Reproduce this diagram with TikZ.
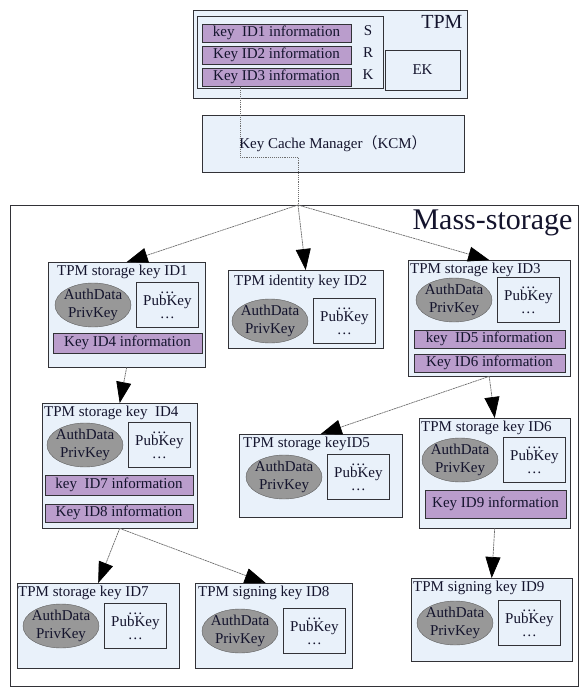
\documentclass[tikz,border=0pt]{standalone}
\usepackage{fontspec}
\setmainfont{Liberation Serif}
\newfontfamily\cjk{Noto Sans CJK SC}
\usepackage{tikz}
\usetikzlibrary{arrows.meta, positioning, shapes.geometric}

\definecolor{boxblue}{RGB}{233,241,250}
\definecolor{barpurple}{RGB}{186,157,204}
\definecolor{ellfill}{RGB}{152,152,152}
\definecolor{ellgray}{RGB}{95,95,95}
\definecolor{edgegray}{RGB}{50,50,55}
\definecolor{linegray}{RGB}{110,110,110}
\definecolor{inkblue}{RGB}{20,20,45}

\begin{document}
\begin{tikzpicture}[
    x=1pt, y=-1pt,
    font=\fontsize{15}{17}\selectfont,
    text=inkblue,
    keybox/.style={draw=edgegray, fill=boxblue, anchor=north west, inner sep=0pt},
    infobar/.style={draw=edgegray, fill=barpurple, line width=1pt, minimum width=149pt, minimum height=18pt, inner sep=0pt},
    privkey/.style={ellipse, draw=ellgray, fill=ellfill, minimum width=76pt, minimum height=44pt, inner sep=-3pt, align=center, font=\fontsize{15}{18}\selectfont},
    pubkey/.style={draw=edgegray, fill=boxblue, minimum width=62pt, minimum height=45pt, inner sep=0pt, align=center},
    title/.style={anchor=west, inner sep=0pt},
    link/.style={draw=linegray, dash pattern=on 2pt off 0.6pt, line width=0.7pt, -{Triangle[length=21pt, width=15pt, color=black]}},
    cacheline/.style={draw=linegray, densely dotted, line width=0.9pt}
]
\useasboundingbox (0,0) rectangle (580,688);

% mass storage frame
\node[draw=edgegray, line width=0.8pt, minimum width=568, minimum height=481, anchor=north west, inner sep=0pt] (mass) at (10,205) {};
\node[font=\fontsize{30}{32}\selectfont, anchor=base east] (masslabel) at (576,229) {Mass-storage};

% TPM with the SRK slots and EK
\node[keybox, minimum width=274, minimum height=88] (tpm) at (193,10) {};
\node[font=\fontsize{20}{22}\selectfont, anchor=base east] (tpmlabel) at (466,28) {TPM};
\node[keybox, minimum width=186, minimum height=72] (srk) at (197,16) {};
\node[infobar] (id1info) at (276.5,33) {key\ \ ID1 information};
\node[infobar, below=3pt of id1info] (id2info) {Key ID2 information};
\node[infobar, below=3pt of id2info] (id3info) {Key ID3 information};
\node (srkS) at (368,31) {S};
\node (srkR) at (368,53) {R};
\node (srkK) at (368,75) {K};
\node[draw=edgegray, fill=boxblue, minimum width=75, minimum height=40] (ek) at (422.5,70) {EK};

% key cache manager
\node[keybox, anchor=center, minimum width=262, minimum height=57] (kcm) at (333,143.5) {Key Cache Manager{\cjk （}KCM{\cjk ）}};

\coordinate (bend) at (298,157);
\coordinate (hub) at (298,205);
\draw[cacheline] ([xshift=-36.5pt]id3info.south) |- (bend) -- (hub);

% storage key ID1
\node[keybox, minimum width=157, minimum height=105] (k1) at (48,262) {};
\node[title] (t1) at (57,272) {TPM storage key ID1};
\node[privkey] (e1) at (93,305) {AuthData\\PrivKey};
\node[pubkey, right=5pt of e1] (p1) {\ldots\\[-5pt]PubKey\\[-4pt]\ldots};
\node[infobar, minimum height=20pt] (id4info) at (127.5,343) {Key ID4 information};

% identity key ID2
\node[keybox, minimum width=155, minimum height=78] (k2) at (228,270) {};
\node[title] (t2) at (234,282) {TPM identity key ID2};
\node[privkey] (e2) at (270,321) {AuthData\\PrivKey};
\node[pubkey, right=5pt of e2] (p2) {\ldots\\[-5pt]PubKey\\[-4pt]\ldots};

% storage key ID3
\node[keybox, minimum width=162, minimum height=116] (k3) at (408,260) {};
\node[title] (t3) at (410,270) {TPM storage key ID3};
\node[privkey] (e3) at (454,300) {AuthData\\PrivKey};
\node[pubkey, right=5pt of e3] (p3) {\ldots\\[-5pt]PubKey\\[-4pt]\ldots};
\node[infobar, minimum width=151pt] (id5info) at (489.5,339) {key\ \ ID5 information};
\node[infobar, minimum width=151pt, below=5pt of id5info] (id6info) {Key ID6 information};

% storage key ID4
\node[keybox, minimum width=155, minimum height=125] (k4) at (42,403) {};
\node[title] (t4) at (44,413) {TPM storage key\ \ ID4};
\node[privkey] (e4) at (85,445) {AuthData\\PrivKey};
\node[pubkey, right=5pt of e4] (p4) {\ldots\\[-5pt]PubKey\\[-4pt]\ldots};
\node[infobar, minimum width=148pt, minimum height=20pt] (id7info) at (119,485) {key\ \ ID7 information};
\node[infobar, minimum width=148pt, below=8pt of id7info] (id8info) {Key ID8 information};

% storage key ID5
\node[keybox, minimum width=163, minimum height=83] (k5) at (239,434) {};
\node[title] (t5) at (243,444) {TPM storage keyID5};
\node[privkey] (e5) at (284,477) {AuthData\\PrivKey};
\node[pubkey, right=5pt of e5] (p5) {\ldots\\[-5pt]PubKey\\[-4pt]\ldots};

% storage key ID6
\node[keybox, minimum width=151, minimum height=110] (k6) at (419,418) {};
\node[title] (t6) at (421,428) {TPM storage key ID6};
\node[privkey] (e6) at (460,460) {AuthData\\PrivKey};
\node[pubkey, right=5pt of e6] (p6) {\ldots\\[-5pt]PubKey\\[-4pt]\ldots};
\node[infobar, minimum width=141pt, minimum height=28pt] (id9info) at (495.5,504) {Key ID9 information};

% leaf keys ID7, ID8, ID9
\node[keybox, minimum width=162, minimum height=85] (k7) at (17,583) {};
\node[title] (t7) at (18,593) {TPM storage key ID7};
\node[privkey] (e7) at (61,626) {AuthData\\PrivKey};
\node[pubkey, right=5pt of e7] (p7) {\ldots\\[-5pt]PubKey\\[-4pt]\ldots};

\node[keybox, minimum width=157, minimum height=85] (k8) at (195,583) {};
\node[title] (t8) at (198,593) {TPM signing key ID8};
\node[privkey] (e8) at (240,631) {AuthData\\PrivKey};
\node[pubkey, right=5pt of e8] (p8) {\ldots\\[-5pt]PubKey\\[-4pt]\ldots};

\node[keybox, minimum width=161, minimum height=83] (k9) at (411,578) {};
\node[title] (t9) at (413,588) {TPM signing key ID9};
\node[privkey] (e9) at (455,623) {AuthData\\PrivKey};
\node[pubkey, right=5pt of e9] (p9) {\ldots\\[-5pt]PubKey\\[-4pt]\ldots};

% key hierarchy arrows
\draw[link] (hub) -- (k1.north);
\draw[link] (hub) -- (k2.north);
\draw[link] (hub) -- (k3.north);
\draw[link] (k1.south) -- (k4.north);
\draw[link] (k3.south) -- (k5.north);
\draw[link] (k3.south) -- (k6.north);
\draw[link] (k4.south) -- (k7.north);
\draw[link] (k4.south) -- ([xshift=-8pt]k8.north);
\draw[link] (k6.south) -- (k9.north);

\end{tikzpicture}
\end{document}
